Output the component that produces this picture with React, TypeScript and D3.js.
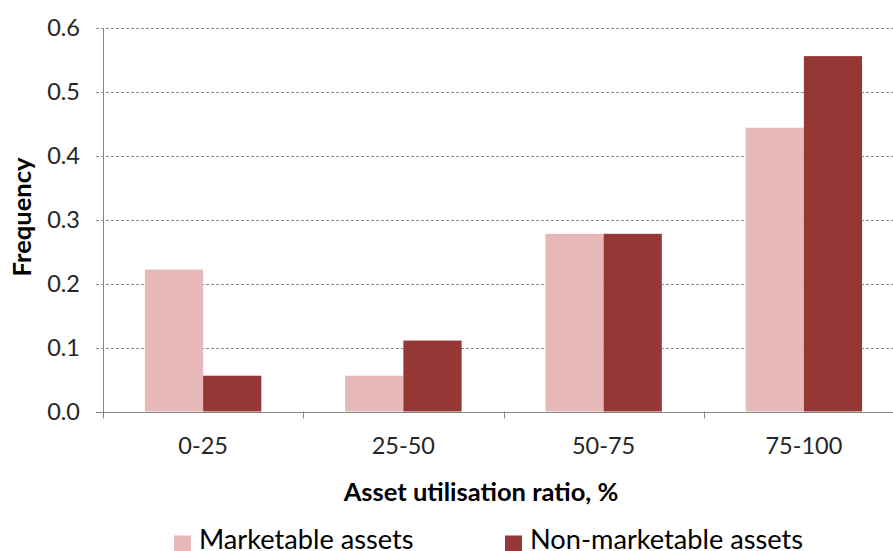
import React, { useEffect, useRef } from "react";
import * as d3 from "d3";

const categories = ["0-25", "25-50", "50-75", "75-100"];
const seriesNames = ["Marketable assets", "Non-marketable assets"];
const marketable = [0.222, 0.056, 0.278, 0.444];
const nonMarketable = [0.056, 0.111, 0.278, 0.556];
const yTicks = [0, 0.1, 0.2, 0.3, 0.4, 0.5, 0.6];
const colors = ["#E6B9B8", "#953735"];

const W = 893;
const H = 551;
const FONT = "Lato, 'Open Sans', sans-serif";

export default function App() {
  const ref = useRef<SVGSVGElement>(null);
  useEffect(() => {
    const svg = d3.select(ref.current);
    svg.selectAll("*").remove();
    const left = 103, right = 904, top = 28, bottom = 411.5;
    const x = d3.scaleBand().domain(categories).range([left, right]);
    const xi = d3.scaleBand().domain(seriesNames).range([0, x.bandwidth()]).paddingInner(0).paddingOuter(0.72);
    const y = d3.scaleLinear().domain([0, 0.6]).range([bottom, top]);

    // gridlines
    svg.append("g").selectAll("line").data(yTicks.slice(1)).join("line")
      .attr("x1", 96).attr("x2", right)
      .attr("y1", (d) => Math.round(y(d)) + 0.5).attr("y2", (d) => Math.round(y(d)) + 0.5)
      .attr("stroke", "#8c8c8c").attr("stroke-width", 1).attr("stroke-dasharray", "3,2");

    const data = [marketable, nonMarketable];
    seriesNames.forEach((s, si) => {
      svg.append("g").selectAll("rect").data(categories).join("rect")
        .attr("x", (c) => (x(c) as number) + (xi(s) as number))
        .attr("width", xi.bandwidth())
        .attr("y", (_c, i) => y(data[si][i]))
        .attr("height", (_c, i) => bottom - y(data[si][i]))
        .attr("fill", colors[si]);
    });

    // axes lines
    svg.append("line").attr("x1", left + 0.5).attr("x2", left + 0.5).attr("y1", top).attr("y2", bottom + 6)
      .attr("stroke", "#868686");
    svg.append("line").attr("x1", 96).attr("x2", right).attr("y1", Math.round(bottom) + 0.5).attr("y2", Math.round(bottom) + 0.5)
      .attr("stroke", "#868686");
    // x ticks between categories
    svg.append("g").selectAll("line").data(categories).join("line")
      .attr("x1", (c) => Math.round(x(c) as number) + 0.5).attr("x2", (c) => Math.round(x(c) as number) + 0.5)
      .attr("y1", bottom).attr("y2", bottom + 7).attr("stroke", "#868686");

    // y tick labels
    svg.append("g").selectAll("text").data(yTicks).join("text")
      .attr("x", 80).attr("y", (d) => y(d) + 8)
      .attr("text-anchor", "end").attr("font-family", FONT).attr("font-size", 23.5)
      .attr("fill", "#262626").text((d) => d.toFixed(1));

    // x tick labels
    svg.append("g").selectAll("text").data(categories).join("text")
      .attr("x", (c) => (x(c) as number) + x.bandwidth() / 2).attr("y", 454)
      .attr("text-anchor", "middle").attr("font-family", FONT).attr("font-size", 23.5)
      .attr("fill", "#262626").text((d) => d);

    // axis titles
    svg.append("text").attr("x", 481).attr("y", 500.5).attr("text-anchor", "middle")
      .attr("font-family", FONT).attr("font-weight", "bold").attr("font-size", 25.5)
      .attr("fill", "#000").text("Asset utilisation ratio, %");
    svg.append("text").attr("transform", "translate(31,217) rotate(-90)").attr("text-anchor", "middle")
      .attr("font-family", FONT).attr("font-weight", "bold").attr("font-size", 25.5)
      .attr("fill", "#000").text("Frequency");

    // legend
    const legendX = [174, 505];
    seriesNames.forEach((s, si) => {
      svg.append("rect").attr("x", legendX[si]).attr("y", 535.5).attr("width", 17).attr("height", 16).attr("fill", colors[si]);
      svg.append("text").attr("x", legendX[si] + 25).attr("y", 549).attr("font-family", FONT).attr("font-size", 27.2)
        .attr("fill", "#000").text(s);
    });
  }, []);
  return (
    <svg ref={ref} width={W} height={H} style={{ position: "absolute", left: 0, top: 0, background: "#fff" }} />
  );
}
